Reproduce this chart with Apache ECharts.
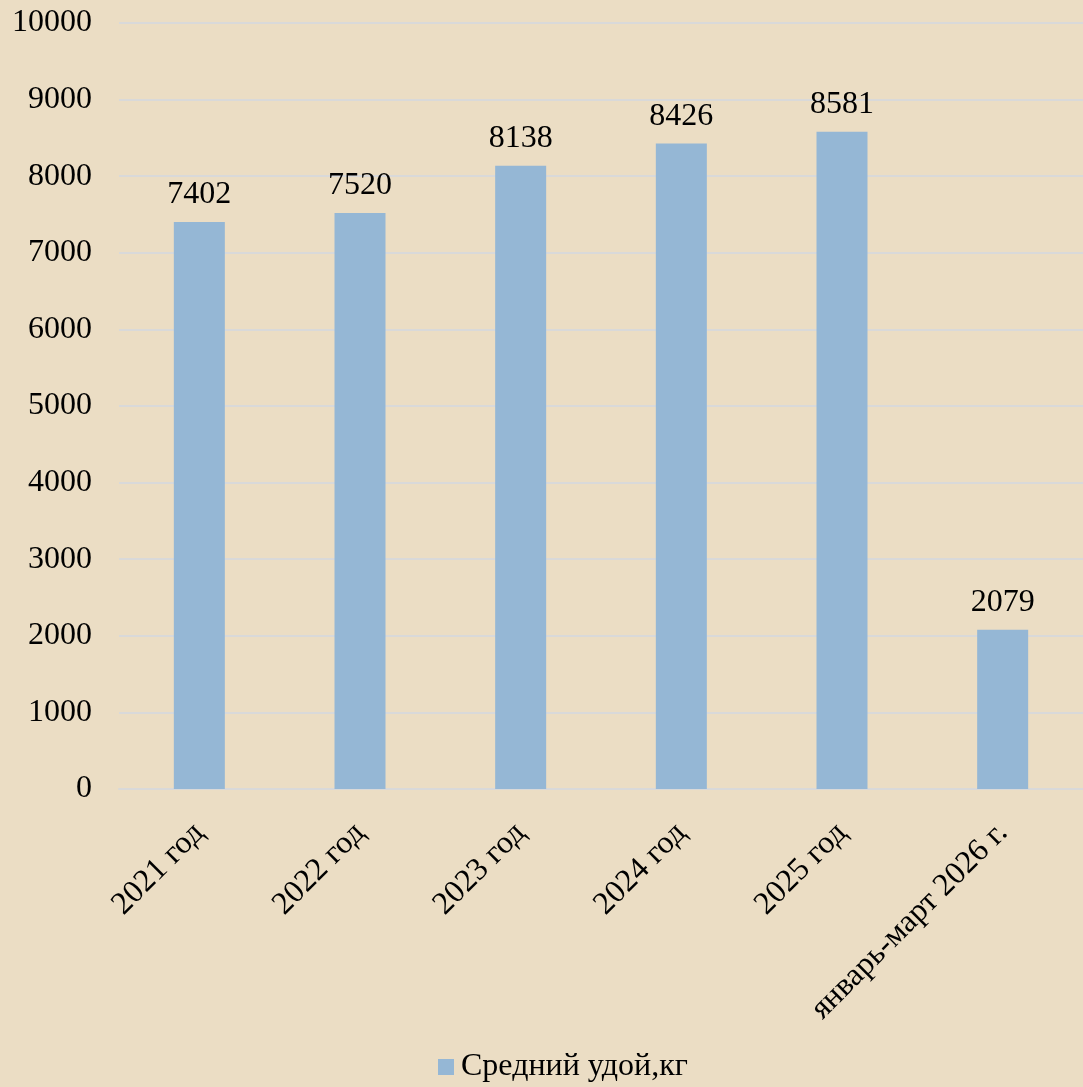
<!DOCTYPE html>
<html>
<head>
<meta charset="utf-8">
<script src="https://cdn.jsdelivr.net/npm/echarts@6/dist/echarts.min.js"></script>
<style>
html,body{margin:0;padding:0;background:#EBDDC4;}
#main{width:1083px;height:1087px;}
</style>
</head>
<body>
<div id="main"></div>
<script>
var categories = ["2021 год","2022 год","2023 год","2024 год","2025 год","январь-март 2026 г."];
var yieldValues = [7402,7520,8138,8426,8581,2079];
var seriesName = "Средний удой,кг";

var font = "'Liberation Serif','Times New Roman',serif";

var option = {
    backgroundColor:"#EBDDC4",
    textStyle:{fontFamily:font},
    animation:false,
    grid:{
        left:119,
        right:-9,
        top:23,
        bottom:298
    },
    legend:{
        data:[seriesName],
        left:433,
        bottom:-1,
        itemWidth:16,
        itemHeight:16,
        icon:"rect",
        textStyle:{fontSize:32,color:"#000",fontFamily:font,padding:[0,0,0,2]}
    },
    xAxis:{
        type:"category",
        data:categories,
        axisLine:{lineStyle:{color:"#D9D9D9",width:2}},
        axisTick:{show:false},
        axisLabel:{
            rotate:45,
            interval:0,
            margin:39,
            fontSize:32,
            color:"#000",
            fontFamily:font
        }
    },
    yAxis:{
        type:"value",
        min:0,
        max:10000,
        interval:1000,
        axisLine:{show:false},
        axisTick:{show:false},
        axisLabel:{
            fontSize:32,
            color:"#000",
            margin:27,
            fontFamily:font,
            formatter:function(v){return String(v);}
        },
        splitLine:{lineStyle:{color:"#D9D9D9",width:2}}
    },
    series:[{
        name:seriesName,
        type:"bar",
        data:yieldValues,
        barWidth:51,
        itemStyle:{color:"#95B7D5"},
        label:{
            show:true,
            position:"top",
            distance:11,
            fontSize:32,
            color:"#000",
            fontFamily:font
        }
    }]
};

var chart = echarts.init(document.getElementById("main"));
chart.setOption(option);
</script>
</body>
</html>
